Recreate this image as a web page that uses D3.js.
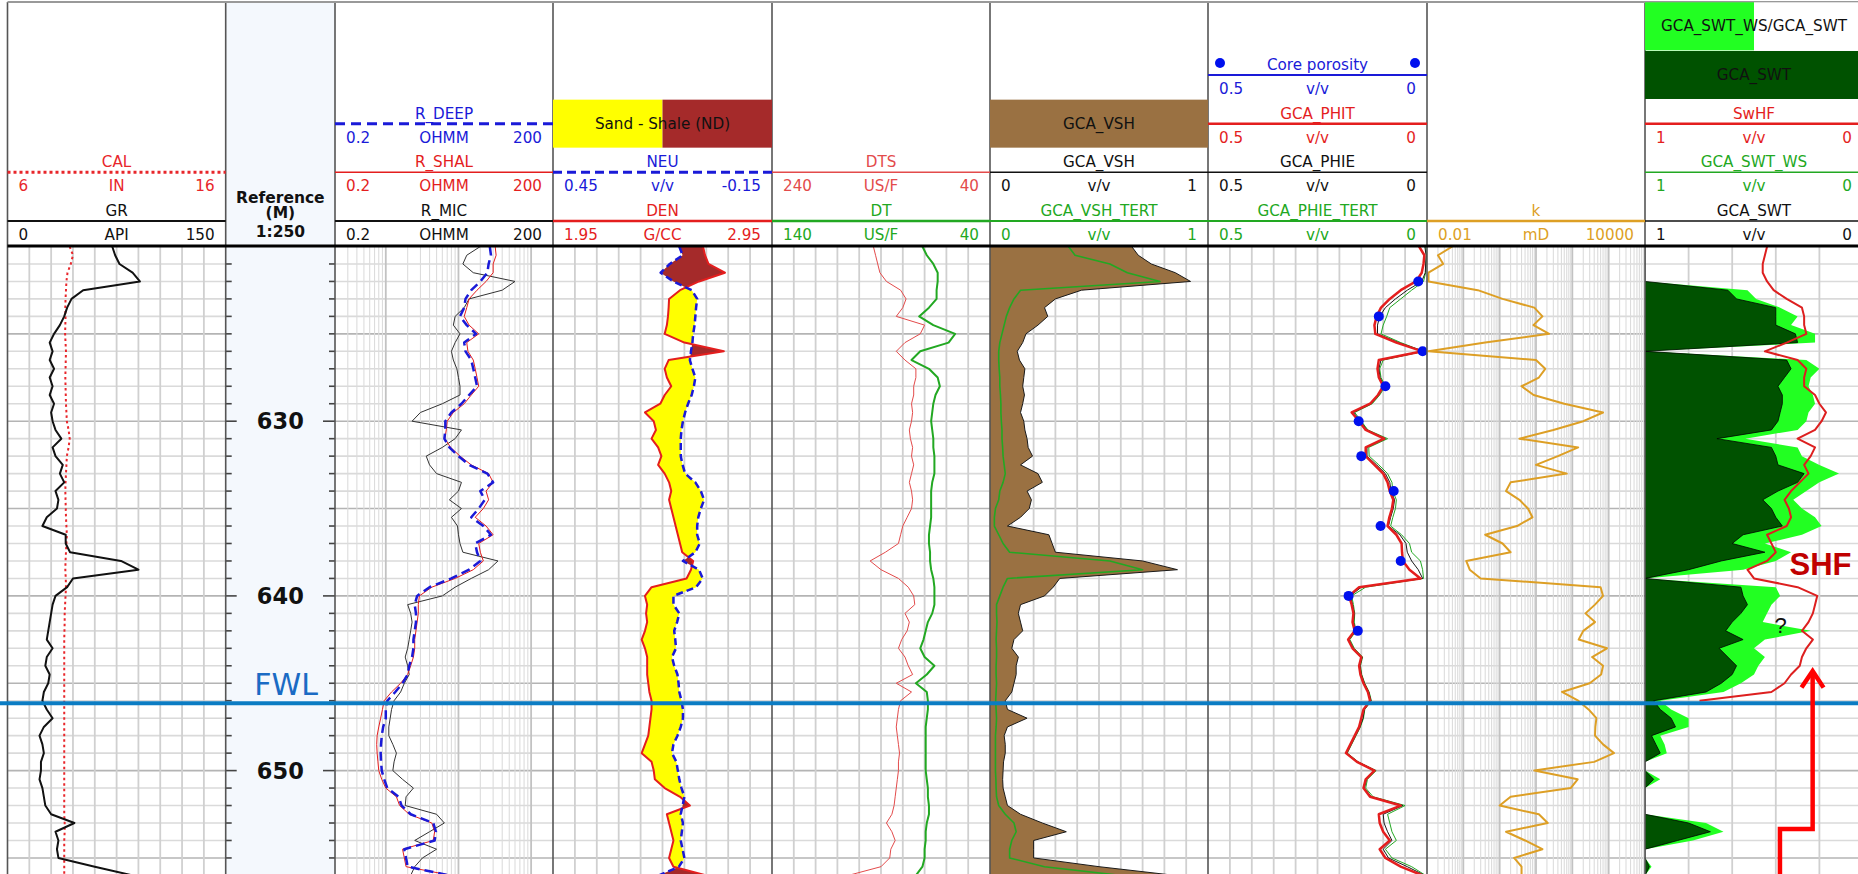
<!DOCTYPE html>
<html>
<head>
<meta charset="utf-8">
<title>Well log – GCA petrophysical interpretation</title>
<script src="https://cdn.jsdelivr.net/npm/d3@7/dist/d3.min.js"></script>
<style>
  html, body { margin: 0; padding: 0; background: #fff; overflow: hidden; }
  svg { display: block; }
</style>
</head>
<body>
<svg id="log" width="1858" height="874" font-family="'DejaVu Sans', Verdana, sans-serif"></svg>
<script>
// ---------------- curve data (sampled every 0.5 m) ----------------
const depth = [620,620.5,621,621.5,622,622.5,623,623.5,624,624.5,625,625.5,626,626.5,627,627.5,628,628.5,629,629.5,
  630,630.5,631,631.5,632,632.5,633,633.5,634,634.5,635,635.5,636,636.5,637,637.5,638,638.5,639,639.5,
  640,640.5,641,641.5,642,642.5,643,643.5,644,644.5,645,645.5,646,646.5,647,647.5,648,648.5,649,649.5,
  650,650.5,651,651.5,652,652.5,653,653.5,654,654.5,655,655.5,656];

const GR = [72,74,77,86,91,52,44,41,39,36,32,29,31,29,32,29,31,29,32,30,
  31,33,37,31,33,38,36,39,33,35,34,27,24,40,40,43,78,90,45,41,
  33,31,30,29,28,27,31,27,26,29,28,25,24,27,31,25,22,24,25,23,
  23,22,24,25,26,30,46,33,35,34,35,60,86];
const CAL = [8.85,9.0,8.9,8.75,8.7,8.68,8.66,8.65,8.66,8.65,8.64,8.66,8.68,8.67,8.66,8.65,8.66,8.67,8.68,8.7,
  8.72,8.8,8.85,8.8,8.72,8.7,8.68,8.66,8.65,8.66,8.67,8.68,8.7,8.72,8.7,8.68,8.66,8.65,8.67,8.68,
  8.66,8.64,8.62,8.62,8.61,8.6,8.6,8.6,8.6,8.6,8.6,8.6,8.6,8.6,8.6,8.6,8.6,8.6,8.6,8.6,
  8.6,8.6,8.6,8.6,8.6,8.6,8.62,8.62,8.6,8.6,8.6,8.6,8.6];

const R_DEEP = [27,28,26,25,20,15,12.5,12,10.5,13,17.5,12,12.5,15,16,17,18,14,11,8,
  6.6,6.6,6.4,7.5,10,14,25,30,20,23,19,15,22,28,17,18,20,14,8,4,
  2.7,2.5,2.6,2.6,2.5,2.4,2.4,2.3,2.1,2.0,1.7,1.35,1.05,1.0,1.0,0.92,0.88,0.86,0.85,0.86,
  0.88,0.95,1.05,1.5,1.65,2.2,4.5,4.9,4.7,1.8,1.9,2.0,7.5];
const R_SHAL = [32,33,30,30,24,18,14,13,12,14,19,13,13.5,16,17,18,19,15,12,8.5,
  7,6.8,6.5,7.8,10.5,15,26,30,24,26,22,17,24,30,19,20,22,16,9,4.3,
  2.9,2.8,2.8,2.7,2.6,2.5,2.5,2.4,2.2,2.0,1.6,1.2,0.95,0.9,0.85,0.8,0.76,0.75,0.76,0.78,
  0.8,0.88,1.0,1.4,1.55,2.1,4.3,4.7,4.5,1.7,1.8,1.9,8];
const R_MIC = [20,13,11.5,16,60,40,14,12,9,8.5,10.5,9,8,8.5,9.5,10,10.5,10.5,6,3,
  2.3,11,9,6,3.6,4,5,11,10,7.5,11,8,9.7,10,10.5,11.5,35,26,15,9,
  6,2.0,2.2,2.3,2.2,2.1,2.0,1.85,2.0,2.1,1.8,1.6,1.3,1.2,1.15,1.1,1.1,1.25,1.4,1.3,
  1.25,1.7,2.4,1.9,1.85,5,6.4,4,2.5,5,3.2,2.5,2.2];

const NEU = [0.104,0.095,0.13,0.155,0.12,0.07,0.055,0.058,0.06,0.062,0.066,0.068,0.072,0.075,0.068,0.06,0.064,0.07,0.08,0.088,
  0.094,0.098,0.1,0.1,0.1,0.095,0.088,0.06,0.045,0.036,0.045,0.052,0.055,0.055,0.048,0.06,0.094,0.05,0.04,0.058,
  0.12,0.12,0.104,0.11,0.118,0.115,0.113,0.124,0.118,0.109,0.106,0.104,0.098,0.094,0.094,0.1,0.109,0.12,0.124,0.112,
  0.108,0.104,0.098,0.09,0.095,0.1,0.094,0.097,0.1,0.095,0.09,0.105,0.16];
const DEN = [2.635,2.644,2.66,2.735,2.617,2.53,2.48,2.478,2.475,2.47,2.46,2.55,2.73,2.478,2.46,2.47,2.49,2.46,2.44,2.37,
  2.41,2.42,2.40,2.43,2.445,2.43,2.46,2.48,2.49,2.48,2.49,2.50,2.51,2.52,2.53,2.54,2.59,2.58,2.56,2.40,
  2.37,2.38,2.375,2.38,2.37,2.355,2.37,2.38,2.38,2.38,2.385,2.39,2.40,2.40,2.395,2.39,2.385,2.37,2.355,2.40,
  2.41,2.415,2.46,2.53,2.575,2.47,2.48,2.49,2.50,2.49,2.48,2.50,2.65];

const DTS = [147,145,143,141,135,122,117,120,126,100,104,118,126,118,108,108,110,110,112,111,
  112,114,113,111,112,110,112,114,112,111,112,116,120,122,124,136,150,140,124,115,
  110,109,118,114,116,121,124,118,115,111,126,112,122,124,125,126,125,124,123,124,
  124,125,126,127,128,130,135,130,127,131,132,140,170];
const DT = [71,69,66,64,64,64.5,64.5,68,72.5,66,56,59,72,76,68,64,63,65,66,66.5,
  67,66.5,66,66,65.5,65.5,65.5,66.5,67,67,67,67,67.5,68,68,67.5,67.5,67,66,65.5,
  65.5,65.5,66.5,68.5,69.5,70.5,72,70,65.5,69,74,69,68.5,68.5,69,69.5,69.5,69.5,69.5,69.5,
  69.5,69,68.5,68.5,68,68,69,69.5,69.5,70,70,71,74];

const GCA_VSH = [0.65,0.68,0.74,0.85,0.92,0.42,0.30,0.25,0.265,0.22,0.165,0.15,0.125,0.135,0.16,0.155,0.15,0.158,0.15,0.14,
  0.155,0.16,0.17,0.175,0.195,0.14,0.22,0.24,0.17,0.19,0.18,0.14,0.08,0.27,0.285,0.30,0.70,0.86,0.32,0.29,
  0.25,0.14,0.13,0.14,0.15,0.11,0.10,0.13,0.12,0.12,0.11,0.10,0.07,0.08,0.17,0.08,0.065,0.07,0.07,0.062,
  0.06,0.058,0.06,0.07,0.08,0.14,0.24,0.35,0.2,0.2,0.2,0.5,0.85];
const GCA_VSH_TERT = [0.36,0.39,0.55,0.63,0.78,0.14,0.11,0.09,0.075,0.065,0.055,0.045,0.04,0.04,0.042,0.045,0.045,0.048,0.05,0.05,
  0.052,0.055,0.055,0.058,0.06,0.065,0.07,0.06,0.045,0.04,0.025,0.02,0.02,0.04,0.06,0.09,0.55,0.70,0.08,0.06,
  0.045,0.03,0.03,0.032,0.03,0.028,0.03,0.03,0.028,0.028,0.03,0.028,0.026,0.028,0.03,0.028,0.025,0.025,0.025,0.025,
  0.025,0.027,0.028,0.03,0.04,0.07,0.11,0.12,0.1,0.09,0.09,0.25,0.6];

const GCA_PHIT = [0.018,0.006,0.008,0.012,0.025,0.06,0.085,0.105,0.115,0.12,0.118,0.07,0.01,0.11,0.113,0.11,0.1,0.112,0.13,0.172,
  0.155,0.14,0.098,0.14,0.14,0.12,0.1,0.09,0.085,0.077,0.08,0.086,0.09,0.07,0.058,0.057,0.055,0.04,0.015,0.155,
  0.178,0.172,0.168,0.17,0.165,0.18,0.17,0.15,0.155,0.152,0.145,0.135,0.13,0.145,0.15,0.155,0.165,0.175,0.185,0.16,
  0.12,0.14,0.145,0.13,0.06,0.11,0.108,0.1,0.085,0.108,0.095,0.06,0.01];
const GCA_PHIE = [0.005,0.002,0.003,0.004,0.012,0.045,0.072,0.095,0.108,0.113,0.113,0.065,0.008,0.105,0.11,0.107,0.098,0.11,0.127,0.168,
  0.152,0.137,0.095,0.137,0.137,0.115,0.095,0.085,0.082,0.074,0.077,0.083,0.088,0.062,0.048,0.045,0.035,0.02,0.01,0.15,
  0.175,0.17,0.166,0.168,0.163,0.178,0.168,0.148,0.153,0.15,0.143,0.133,0.128,0.143,0.146,0.153,0.163,0.173,0.183,0.158,
  0.118,0.138,0.143,0.127,0.055,0.1,0.098,0.09,0.08,0.1,0.088,0.045,0.005];
const GCA_PHIE_TERT = [0.003,0.001,0.002,0.003,0.008,0.035,0.06,0.085,0.092,0.1,0.105,0.06,0.008,0.1,0.108,0.105,0.095,0.108,0.125,0.165,
  0.15,0.135,0.09,0.133,0.132,0.11,0.09,0.08,0.078,0.07,0.072,0.078,0.083,0.058,0.04,0.035,0.015,0.01,0.008,0.14,
  0.172,0.168,0.165,0.166,0.162,0.176,0.166,0.147,0.152,0.149,0.142,0.132,0.127,0.142,0.145,0.152,0.162,0.172,0.182,0.157,
  0.116,0.136,0.14,0.123,0.05,0.09,0.085,0.08,0.07,0.095,0.08,0.035,0.003];
const coreDepth = [622,624,626,628,630,632,634,636,638,640,642];
const corePorosity = [0.02,0.11,0.01,0.095,0.156,0.15,0.076,0.106,0.06,0.179,0.158];

const K = [0.05,0.02,0.028,0.011,0.011,0.25,1.2,9,15,8.5,23,0.4,0.011,10,18,12,4,8.6,60,700,
  200,30,3.5,145,40,10,70,2,1.5,3.5,6,8,3,0.4,1.2,2,0.12,0.15,0.3,600,
  700,420,230,420,200,150,900,350,700,620,300,52,145,280,460,430,420,700,1400,400,
  9,140,90,2,1,12,21,1.5,5,15,2.5,4,4];

const SwHF = [0.44,0.45,0.46,0.46,0.44,0.41,0.35,0.28,0.27,0.27,0.26,0.35,0.45,0.30,0.26,0.27,0.27,0.22,0.2,0.17,
  0.19,0.22,0.30,0.22,0.24,0.27,0.25,0.29,0.33,0.36,0.34,0.33,0.35,0.44,0.42,0.40,0.44,0.53,0.50,0.30,
  0.21,0.22,0.23,0.25,0.28,0.23,0.26,0.28,0.29,0.33,0.36,0.42,0.75,null,null,null,null,null,null,null,
  null,null,null,null,null,null,null,null,null,null,null,null,null];
const GCA_SWT = [1,1,1,1,1,0.62,0.58,0.40,0.40,0.40,0.31,0.30,1,0.35,0.33,0.36,0.39,0.37,0.37,0.38,
  0.39,0.42,0.67,0.42,0.40,0.39,0.27,0.30,0.39,0.46,0.42,0.40,0.37,0.55,0.60,0.45,0.65,0.80,1,0.56,
  0.55,0.53,0.56,0.60,0.63,0.55,0.66,0.62,0.58,0.60,0.65,0.72,0.96,0.93,0.88,0.86,0.97,0.95,0.93,1,
  1,0.96,1,1,1,1,0.80,0.70,0.85,1,1,0.98,1];
const GCA_SWT_WS = [1,1,1,1,1,0.53,0.49,0.38,0.30,0.33,0.22,0.22,1,0.26,0.20,0.24,0.25,0.23,0.22,0.25,
  0.26,0.30,0.54,0.30,0.28,0.20,0.11,0.20,0.26,0.32,0.28,0.22,0.19,0.28,0.45,0.33,0.40,0.55,1,0.40,
  0.38,0.42,0.44,0.46,0.24,0.45,0.50,0.45,0.48,0.50,0.56,0.64,0.93,0.88,0.80,0.80,0.93,0.91,0.90,1,
  1,0.93,1,1,1,1,0.72,0.64,0.78,1,1,0.97,1];

const depthLabels = [630, 640, 650];
const fwlDepth = 646.14;

// ---------------- layout ----------------
const W = 1858, H = 874;
const PLOT_TOP = 246.5, M_PX = 17.47;
const y = d3.scaleLinear().domain([620, 656]).range([PLOT_TOP, PLOT_TOP + 36 * M_PX]);
const T = {
  gr: [7.5, 225.7], ref: [225.7, 335], res: [335, 553], den: [553, 772], dt: [772, 990],
  vsh: [990, 1208], phi: [1208, 1427], k: [1427, 1645], sw: [1645, 1863]
};

const xGR = d3.scaleLinear().domain([0, 150]).range(T.gr);
const xCAL = d3.scaleLinear().domain([6, 16]).range(T.gr);
const xRES = d3.scaleLog().domain([0.2, 200]).range(T.res);
const xNEU = d3.scaleLinear().domain([0.45, -0.15]).range(T.den);
const xDEN = d3.scaleLinear().domain([1.95, 2.95]).range(T.den);
const xDTS = d3.scaleLinear().domain([240, 40]).range(T.dt);
const xDT = d3.scaleLinear().domain([140, 40]).range(T.dt);
const xVSH = d3.scaleLinear().domain([0, 1]).range(T.vsh);
const xPHI = d3.scaleLinear().domain([0.5, 0]).range(T.phi);
const xK = d3.scaleLog().domain([0.01, 10000]).range(T.k);
const xSW = d3.scaleLinear().domain([1, 0]).range(T.sw);

const C = {
  black: "#111", red: "#e41e1e", redThin: "#e34b4b", blue: "#1a1ad8", green: "#22a822",
  orange: "#dd9f25", brown: "#9a7142", shale: "#a52a2a", sand: "#ffff00",
  darkGreen: "#005200", lightGreen: "#22ff22", fwl: "#0b7cc3", core: "#0010ee"
};

const svg = d3.select("#log");
const defs = svg.append("defs");
const idx = depth.map((_, i) => i);

// ---------------- backgrounds ----------------
svg.append("rect").attr("x", T.ref[0]).attr("y", 2).attr("width", T.ref[1] - T.ref[0]).attr("height", H)
  .attr("fill", "#f4f8fd");

// ---------------- grids ----------------
const grid = svg.append("g");
function hGrid(x0, x1) {
  for (let d = 621; d <= 656; d++) {
    grid.append("line").attr("x1", x0).attr("x2", x1).attr("y1", y(d)).attr("y2", y(d))
      .attr("stroke", d % 5 === 0 ? "#b4b4b4" : "#dadada").attr("stroke-width", 1.6);
  }
}
function vGridLinear(x0, x1, n) {
  for (let i = 1; i < n; i++) {
    const x = x0 + (x1 - x0) * i / n;
    grid.append("line").attr("x1", x).attr("x2", x).attr("y1", PLOT_TOP).attr("y2", H)
      .attr("stroke", "#d0d0d0").attr("stroke-width", 1.8);
  }
}
function vGridLog(scale) {
  const [a, b] = scale.domain();
  for (let e = Math.floor(Math.log10(a)); e <= Math.ceil(Math.log10(b)); e++) {
    for (let m = 1; m < 10; m++) {
      const v = m * Math.pow(10, e);
      if (v <= a * 1.001 || v >= b * 0.999) continue;
      grid.append("line").attr("x1", scale(v)).attr("x2", scale(v)).attr("y1", PLOT_TOP).attr("y2", H)
        .attr("stroke", m === 1 ? "#c2c2c2" : "#dcdcdc").attr("stroke-width", m === 1 ? 1.8 : 1.1);
    }
  }
}
["gr", "res", "den", "dt", "vsh", "phi", "k", "sw"].forEach(k => hGrid(T[k][0], T[k][1]));
vGridLinear(T.gr[0], T.gr[1], 10);
vGridLog(xRES);
vGridLinear(T.den[0], T.den[1], 10);
vGridLinear(T.dt[0], T.dt[1], 10);
vGridLinear(T.vsh[0], T.vsh[1], 10);
vGridLinear(T.phi[0], T.phi[1], 10);
vGridLog(xK);
vGridLinear(T.sw[0], T.sw[1], 5);

// ---------------- clip paths per track ----------------
Object.keys(T).forEach(k => {
  defs.append("clipPath").attr("id", "clip-" + k).append("rect")
    .attr("x", T[k][0]).attr("y", PLOT_TOP).attr("width", T[k][1] - T[k][0]).attr("height", H - PLOT_TOP);
});
const layer = k => svg.append("g").attr("clip-path", `url(#clip-${k})`);

function curve(g, values, xs, stroke, width, dash) {
  const line = d3.line().defined(i => values[i] != null)
    .x(i => xs(values[i])).y(i => y(depth[i]));
  g.append("path").attr("d", line(idx)).attr("fill", "none").attr("stroke", stroke)
    .attr("stroke-width", width).attr("stroke-linejoin", "round")
    .attr("stroke-dasharray", dash || null);
}
function band(g, x0f, x1f, fill, clipId) {
  const area = d3.area().x0(x0f).x1(x1f).y(i => y(depth[i]));
  const p = g.append("path").attr("d", area(idx)).attr("fill", fill).attr("stroke", "none");
  if (clipId) p.attr("clip-path", `url(#${clipId})`);
}

// GR track
const gGR = layer("gr");
curve(gGR, CAL, xCAL, "#e8262b", 2, "2.5,3");
curve(gGR, GR, xGR, C.black, 2);

// Resistivity track
const gRES = layer("res");
curve(gRES, R_MIC, xRES, "#333", 1);
curve(gRES, R_SHAL, xRES, C.red, 1);
curve(gRES, R_DEEP, xRES, C.blue, 2.5, "9,5");

// Neutron-density track with sand / shale crossover fills
const gDEN = layer("den");
defs.append("clipPath").attr("id", "den-right").append("path")
  .attr("d", d3.area().x0(i => xDEN(DEN[i])).x1(T.den[1] + 5).y(i => y(depth[i]))(idx));
defs.append("clipPath").attr("id", "den-left").append("path")
  .attr("d", d3.area().x0(T.den[0] - 5).x1(i => xDEN(DEN[i])).y(i => y(depth[i]))(idx));
band(gDEN, () => T.den[0], i => xNEU(NEU[i]), C.sand, "den-right");
band(gDEN, i => xNEU(NEU[i]), () => T.den[1], C.shale, "den-left");
curve(gDEN, DEN, xDEN, C.red, 2);
curve(gDEN, NEU, xNEU, C.blue, 2.5, "7,4");

// Sonic track
const gDT = layer("dt");
curve(gDT, DTS, xDTS, C.redThin, 1);
curve(gDT, DT, xDT, C.green, 2);

// Shale volume track
const gVSH = layer("vsh");
band(gVSH, () => T.vsh[0], i => xVSH(GCA_VSH[i]), C.brown);
curve(gVSH, GCA_VSH, xVSH, "#1a1a1a", 1);
curve(gVSH, GCA_VSH_TERT, xVSH, C.green, 1.6);

// Porosity track
const gPHI = layer("phi");
curve(gPHI, GCA_PHIE_TERT, xPHI, C.green, 1);
curve(gPHI, GCA_PHIE, xPHI, "#1a1a1a", 1);
curve(gPHI, GCA_PHIT, xPHI, C.red, 2.5);
gPHI.selectAll("circle.core").data(coreDepth).join("circle").attr("class", "core")
  .attr("cx", (d, i) => xPHI(corePorosity[i])).attr("cy", d => y(d)).attr("r", 5).attr("fill", C.core);

// Permeability track
const gK = layer("k");
curve(gK, K, xK, C.orange, 2);

// Saturation track
const gSW = layer("sw");
band(gSW, () => T.sw[0], i => xSW(GCA_SWT_WS[i]), C.lightGreen);
band(gSW, () => T.sw[0], i => xSW(GCA_SWT[i]), C.darkGreen);
curve(gSW, GCA_SWT, xSW, "#000", 0.8);
curve(gSW, SwHF, xSW, "#dd1f1f", 2);

// ---------------- depth track ----------------
const gRef = svg.append("g");
for (let d = 621; d <= 655; d++) {
  const major = d % 10 === 0;
  gRef.append("line").attr("x1", T.ref[0]).attr("x2", T.ref[0] + (major ? 11 : 6))
    .attr("y1", y(d)).attr("y2", y(d)).attr("stroke", "#444").attr("stroke-width", 1.6);
  gRef.append("line").attr("x1", T.ref[1] - (major ? 12 : 6)).attr("x2", T.ref[1])
    .attr("y1", y(d)).attr("y2", y(d)).attr("stroke", "#444").attr("stroke-width", 1.6);
}
gRef.selectAll("text.dl").data(depthLabels).join("text").attr("class", "dl")
  .attr("x", (T.ref[0] + T.ref[1]) / 2).attr("y", d => y(d) + 8)
  .attr("text-anchor", "middle").attr("font-size", 22.5).attr("font-weight", "bold").attr("fill", "#111")
  .text(d => d);

// ---------------- track borders ----------------
const borders = [T.gr[0], T.gr[1], T.ref[1], T.res[1], T.den[1], T.dt[1], T.vsh[1], T.phi[1], T.k[1]];
borders.forEach(x => svg.append("line").attr("x1", x).attr("x2", x).attr("y1", 2).attr("y2", H)
  .attr("stroke", "#555").attr("stroke-width", 1.6));
svg.append("line").attr("x1", T.gr[0]).attr("x2", W).attr("y1", 2).attr("y2", 2)
  .attr("stroke", "#999").attr("stroke-width", 2);

// ---------------- header ----------------
const FS = 15.2;
const hdr = svg.append("g");
const slotLine = s => 221 - 48.67 * s;
function hText(x, yy, txt, color, anchor) {
  return hdr.append("text").attr("x", x).attr("y", yy).attr("fill", color)
    .attr("font-size", FS).attr("text-anchor", anchor || "middle").text(txt);
}
function headerCurve(track, slot, h) {
  const [x0, x1] = T[track], yl = slotLine(slot), cx = (x0 + x1) / 2;
  hdr.append("line").attr("x1", x0).attr("x2", x1).attr("y1", yl).attr("y2", yl)
    .attr("stroke", h.color).attr("stroke-width", h.lw).attr("stroke-dasharray", h.dash || null);
  hText(cx, yl - 5, h.name, h.color);
  hText(x0 + 11, yl + 19, h.scale[0], h.color, "start");
  hText(cx, yl + 19, h.scale[1], h.color);
  hText(x1 - 11, yl + 19, h.scale[2], h.color, "end");
}
function headerBox(track, slot, label, fills) {
  const [x0, x1] = T[track], yl = slotLine(slot), w = (x1 - x0) / fills.length;
  fills.forEach((f, i) => hdr.append("rect").attr("x", x0 + i * w).attr("y", yl - 24)
    .attr("width", w).attr("height", 48).attr("fill", f));
  hText((x0 + x1) / 2, yl + 5, label, "#111");
}

const headers = [
  ["gr", 0, { name: "GR", scale: ["0", "API", "150"], color: C.black, lw: 2 }],
  ["gr", 1, { name: "CAL", scale: ["6", "IN", "16"], color: "#e8262b", lw: 3, dash: "3,3" }],
  ["res", 0, { name: "R_MIC", scale: ["0.2", "OHMM", "200"], color: C.black, lw: 2 }],
  ["res", 1, { name: "R_SHAL", scale: ["0.2", "OHMM", "200"], color: C.red, lw: 1.5 }],
  ["res", 2, { name: "R_DEEP", scale: ["0.2", "OHMM", "200"], color: C.blue, lw: 3, dash: "10,6" }],
  ["den", 0, { name: "DEN", scale: ["1.95", "G/CC", "2.95"], color: C.red, lw: 2.5 }],
  ["den", 1, { name: "NEU", scale: ["0.45", "v/v", "-0.15"], color: C.blue, lw: 3, dash: "9,5" }],
  ["dt", 0, { name: "DT", scale: ["140", "US/F", "40"], color: C.green, lw: 2.5 }],
  ["dt", 1, { name: "DTS", scale: ["240", "US/F", "40"], color: C.redThin, lw: 1.5 }],
  ["vsh", 0, { name: "GCA_VSH_TERT", scale: ["0", "v/v", "1"], color: C.green, lw: 2 }],
  ["vsh", 1, { name: "GCA_VSH", scale: ["0", "v/v", "1"], color: C.black, lw: 1.5 }],
  ["phi", 0, { name: "GCA_PHIE_TERT", scale: ["0.5", "v/v", "0"], color: C.green, lw: 2 }],
  ["phi", 1, { name: "GCA_PHIE", scale: ["0.5", "v/v", "0"], color: C.black, lw: 1.5 }],
  ["phi", 2, { name: "GCA_PHIT", scale: ["0.5", "v/v", "0"], color: C.red, lw: 2.5 }],
  ["phi", 3, { name: "Core porosity", scale: ["0.5", "v/v", "0"], color: C.blue, lw: 2 }],
  ["k", 0, { name: "k", scale: ["0.01", "mD", "10000"], color: C.orange, lw: 2.5 }],
  ["sw", 0, { name: "GCA_SWT", scale: ["1", "v/v", "0"], color: C.black, lw: 1.5 }],
  ["sw", 1, { name: "GCA_SWT_WS", scale: ["1", "v/v", "0"], color: C.green, lw: 1.5 }],
  ["sw", 2, { name: "SwHF", scale: ["1", "v/v", "0"], color: C.red, lw: 2.5 }]
];
headers.forEach(([tr, s, h]) => headerCurve(tr, s, h));
// core porosity marker symbols
[T.phi[0] + 12, T.phi[1] - 12].forEach(x => hdr.append("circle").attr("cx", x).attr("cy", slotLine(3) - 12)
  .attr("r", 5).attr("fill", C.core));
headerBox("den", 2, "Sand - Shale (ND)", [C.sand, C.shale]);
headerBox("vsh", 2, "GCA_VSH", [C.brown]);
headerBox("sw", 3, "GCA_SWT", [C.darkGreen]);
headerBox("sw", 4, "GCA_SWT_WS/GCA_SWT", [C.lightGreen, "#ffffff"]);

// depth track title
[["Reference", 203], ["(M)", 218], ["1:250", 237]].forEach(([t, yy]) =>
  hdr.append("text").attr("x", (T.ref[0] + T.ref[1]) / 2).attr("y", yy).attr("text-anchor", "middle")
    .attr("font-size", 15.5).attr("font-weight", "bold").attr("fill", "#111").text(t));

svg.append("line").attr("x1", T.gr[0]).attr("x2", W).attr("y1", 246).attr("y2", 246)
  .attr("stroke", "#000").attr("stroke-width", 3);

// ---------------- free water level and annotations ----------------
svg.append("line").attr("x1", 0).attr("x2", W).attr("y1", y(fwlDepth)).attr("y2", y(fwlDepth))
  .attr("stroke", C.fwl).attr("stroke-width", 4);
svg.append("text").attr("x", T.ref[1] - 17).attr("y", y(fwlDepth) - 8).attr("text-anchor", "end")
  .attr("font-size", 30).attr("fill", "#1a6bc4").text("FWL");

svg.append("text").attr("x", xSW(0.337)).attr("y", y(638.8))
  .attr("font-family", "'Liberation Sans', Arial, sans-serif")
  .attr("font-size", 31).attr("font-weight", "bold").attr("fill", "#c00000").text("SHF");
svg.append("text").attr("x", xSW(0.378)).attr("y", y(642.1)).attr("text-anchor", "middle")
  .attr("font-family", "'Liberation Sans', Arial, sans-serif").attr("font-size", 22).attr("fill", "#111").text("?");

// arrow pointing up to the transition zone
const arrowPts = [[0.381, 657], [0.381, 653.34], [0.231, 653.34], [0.231, 644.3]];
svg.append("path").attr("d", d3.line().x(p => xSW(p[0])).y(p => y(p[1]))(arrowPts))
  .attr("fill", "none").attr("stroke", "#ff0000").attr("stroke-width", 4.5).attr("stroke-linejoin", "miter");
const headPts = [[0.282, 645.25], [0.231, 644.3], [0.181, 645.25]];
svg.append("path").attr("d", d3.line().x(p => xSW(p[0])).y(p => y(p[1]))(headPts))
  .attr("fill", "none").attr("stroke", "#ff0000").attr("stroke-width", 4.5).attr("stroke-linejoin", "miter");
</script>
</body>
</html>
